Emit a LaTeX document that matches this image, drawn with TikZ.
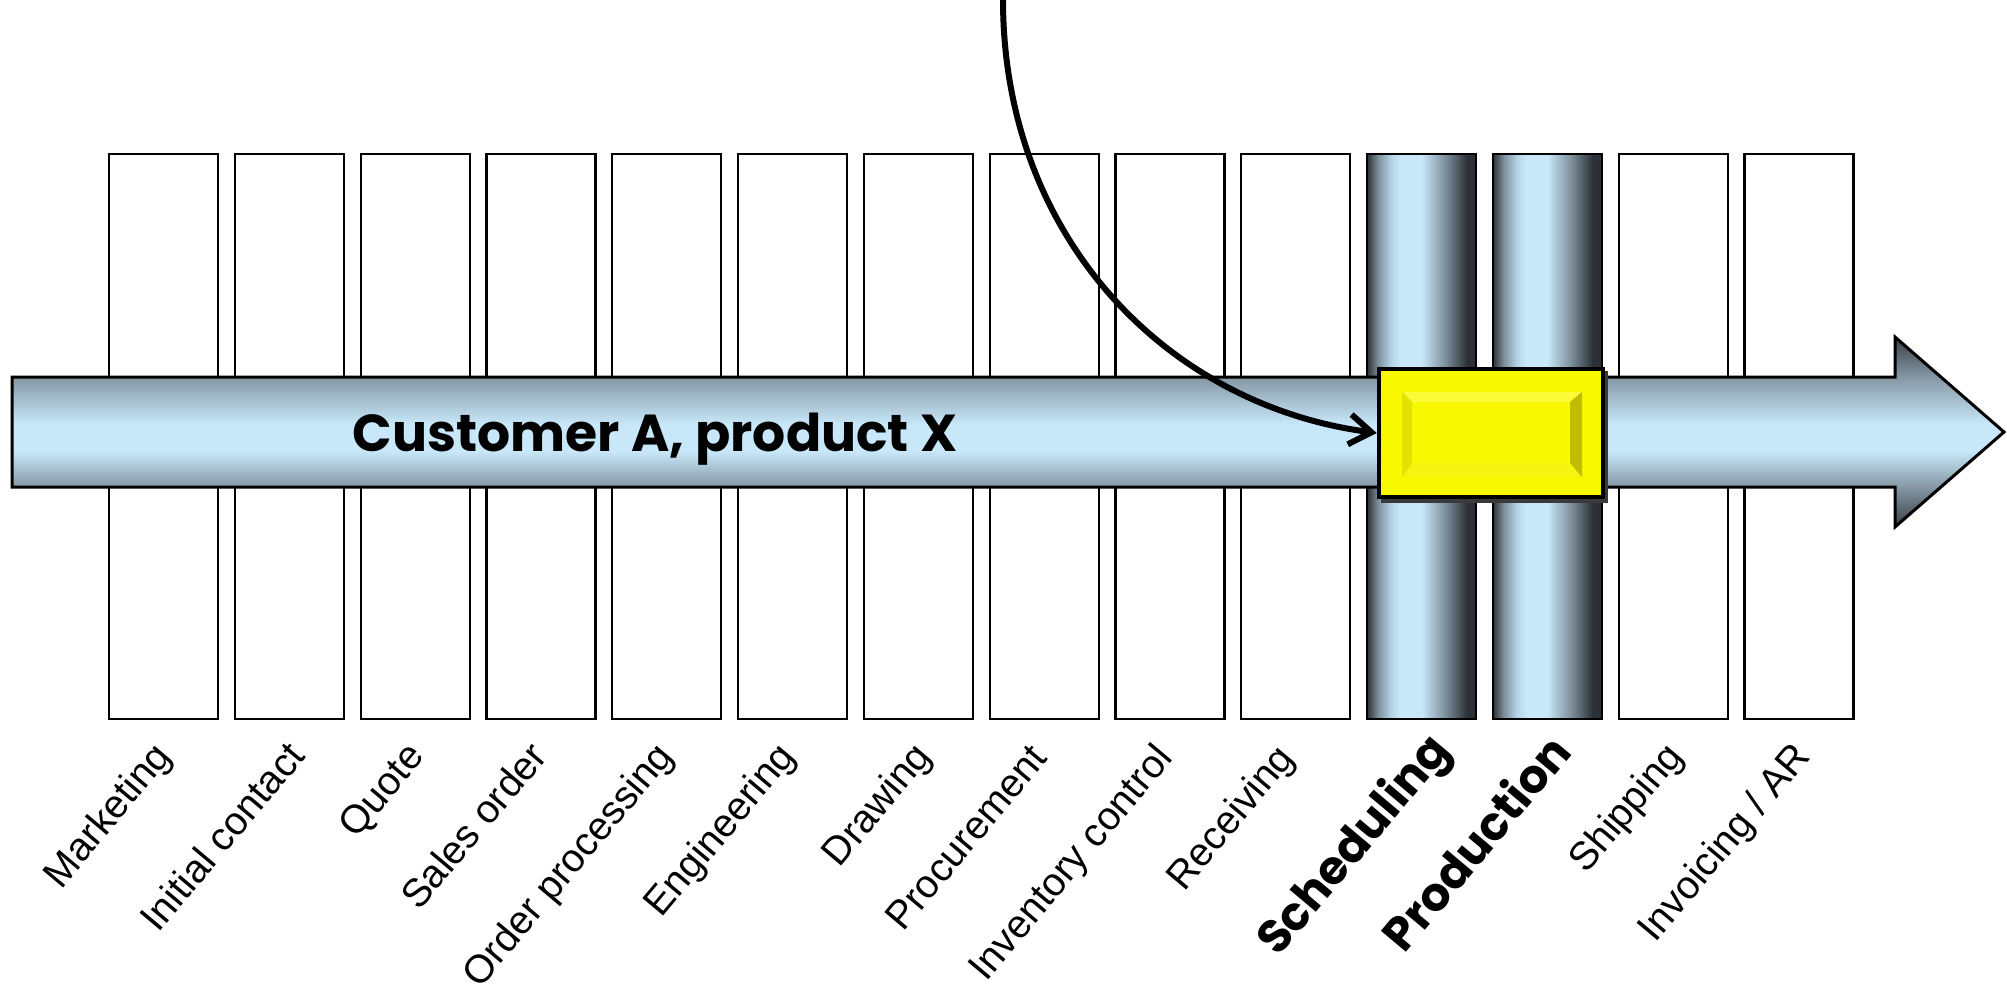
\documentclass[tikz,border=0pt]{standalone}
\usepackage{fontspec}
\setmainfont{Liberation Sans}
\newfontfamily\handfont{Poppins}
\usetikzlibrary{arrows.meta}

\definecolor{barlight}{HTML}{C8E8FA}
\definecolor{baredge}{HTML}{8597A3}
\definecolor{bardark}{HTML}{363F46}
\definecolor{coldark}{HTML}{2A3035}
\definecolor{colmid}{HTML}{7C8E9A}
\definecolor{colsoft}{HTML}{B4D4E6}
\definecolor{boxyellow}{HTML}{F8F800}
\definecolor{bevtop}{HTML}{FBFB3A}
\definecolor{bevbottom}{HTML}{F4F410}
\definecolor{bevleft}{HTML}{E2E200}
\definecolor{bevright}{HTML}{C2BC00}
\definecolor{shadowgray}{HTML}{3A3A3A}

% flow bar: dark arrowhead tips, grey-blue shaft edges, light centre
\pgfdeclareverticalshading{flowshade}{100bp}{%
  color(0bp)=(bardark); color(25bp)=(bardark); color(35.5bp)=(baredge);
  color(45bp)=(barlight); color(52bp)=(barlight); color(64.5bp)=(baredge);
  color(75bp)=(bardark); color(100bp)=(bardark)}
% cylinder look of the highlighted stages
\pgfdeclarehorizontalshading{stageshade}{100bp}{%
  color(0bp)=(coldark); color(25bp)=(coldark); color(30bp)=(colmid);
  color(36bp)=(colsoft); color(40bp)=(barlight); color(50bp)=(barlight);
  color(61bp)=(colmid); color(71bp)=(coldark); color(100bp)=(coldark)}

\begin{document}
\begin{tikzpicture}[x=1pt,y=-1pt,
  stage/.style={draw=black, line width=2.2pt, fill=white, minimum width=109pt,
    minimum height=565pt, inner sep=0pt},
  stagehot/.style={draw=black, line width=2.2pt, shade, shading=stageshade,
    minimum width=109pt, minimum height=565pt, inner sep=0pt},
  steplabel/.style={font=\fontsize{39.5}{46}\selectfont, rotate=50,
    anchor=base east, inner sep=0pt},
  hotlabel/.style={font=\handfont\bfseries\fontsize{46.5}{54}\selectfont, rotate=50,
    anchor=base east, inner sep=0pt},
]
\useasboundingbox (0,0) rectangle (2007,997);
\fill[white] (0,0) rectangle (2007,997);

% stage columns
\foreach \i in {0,...,9,12,13}
  \node[stage] (c\i) at ({163.5+125.8*\i},436.5) {};
\foreach \i in {10,11}
  \node[stagehot] (c\i) at ({163.5+125.8*\i},436.5) {};

% flow arrow
\shadedraw[shading=flowshade, draw=black, line width=3pt, line join=miter]
  (12,377) -- (1895,377) -- (1895,337) -- (2004,432) -- (1895,527)
  -- (1895,487) -- (12,487) -- cycle;
\node[font=\handfont\bfseries\fontsize{52}{60}\selectfont, anchor=base]
  (flowtext) at (655,451) {Customer A, product X};

% highlighted yellow block with bevel
\fill[shadowgray] (1381,371) rectangle (1608,503);
\node[draw=black, line width=4.5pt, fill=boxyellow, minimum width=224pt,
  minimum height=128pt, inner sep=0pt] (focus) at (1491,433) {};
\fill[bevtop] (1402,392) -- (1582,392) -- (1570,402) -- (1412,402) -- cycle;
\fill[bevbottom] (1402,477) -- (1582,477) -- (1570,463) -- (1412,463) -- cycle;
\fill[bevleft] (1402,392) -- (1412,402) -- (1412,463) -- (1402,477) -- cycle;
\fill[bevright] (1582,392) -- (1570,402) -- (1570,463) -- (1582,477) -- cycle;
\fill[boxyellow] (1412,402) rectangle (1570,463);

% incoming curve
\coordinate (feed) at (1003,0);
\draw[line width=6pt, -{Straight Barb[length=22pt,width=30pt]}]
  (feed) .. controls (1003,235) and (1165,405) .. (focus.west);

% stage labels
\node[steplabel] (l0) at (173,757) {Marketing};
\node[steplabel] (l1) at (307,757) {Initial contact};
\node[steplabel] (l2) at (426,757) {Quote};
\node[steplabel] (l3) at (549,757) {Sales order};
\node[steplabel] (l4) at (675,757) {Order processing};
\node[steplabel] (l5) at (797,757) {Engineering};
\node[steplabel] (l6) at (933,757) {Drawing};
\node[steplabel] (l7) at (1049,759) {Procurement};
\node[steplabel] (l8) at (1174,759) {Inventory control};
\node[steplabel] (l9) at (1296,759) {Receiving};
\node[hotlabel] (l10) at (1452,751) {Scheduling};
\node[hotlabel] (l11) at (1574,753) {Production};
\node[steplabel] (l12) at (1685,757) {Shipping};
\node[steplabel] (l13) at (1812,757) {Invoicing / AR};
\end{tikzpicture}
\end{document}
